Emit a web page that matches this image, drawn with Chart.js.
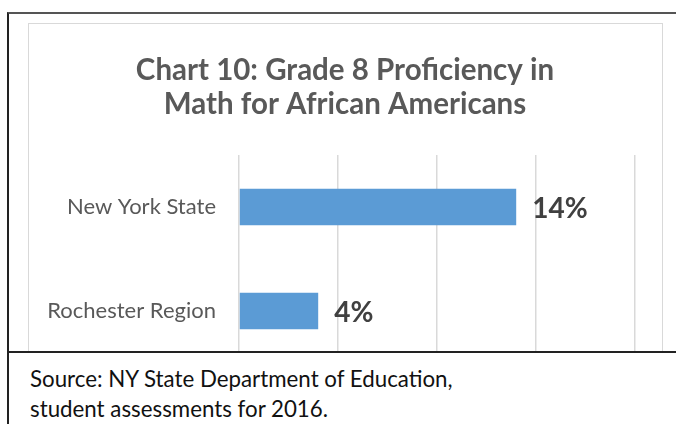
<!DOCTYPE html>
<html>
<head>
<meta charset="utf-8">
<script src="https://cdn.jsdelivr.net/npm/chart.js@4"></script>
<style>
  body { margin: 0; background: #fff; }
  #wrap { position: relative; width: 676px; height: 424px; overflow: hidden; background: #fff; }
  #outer { position: absolute; left: 7px; top: 12px; right: -5px; bottom: -5px; border-top: 2px solid #555; border-left: 2px solid #222; }
  #box { position: absolute; left: 28px; top: 23px; width: 633px; height: 340px; border: 1px solid #d9d9d9; }
  canvas { position: absolute; left: 0; top: 0; }
  #source { position: absolute; left: 7px; top: 351px; right: 0; bottom: 0; background: #fff;
    border-top: 2px solid #222; border-left: 2px solid #222;
    font-family: Lato, "Open Sans", sans-serif; font-size: 22.3px; line-height: 30px; color: #111; padding: 11px 0 0 21px; }
</style>
</head>
<body>
<div id="wrap">
  <div id="outer"></div>
  <div id="box"></div>
  <canvas id="chart" width="676" height="424"></canvas>
  <div id="source">Source: NY State Department of Education,<br>student assessments for 2016.</div>
</div>
<script>
// data
var categories = ['New York State', 'Rochester Region'];
var proficiency = [14, 4];
var valueLabels = ['14%', '4%'];
var gridStep = 5;
var gridMax = 20;

// draw the bold value next to each bar
var valueLabelPlugin = {
  id: 'valueLabels',
  afterDatasetsDraw: function (chart) {
    var ctx = chart.ctx;
    var meta = chart.getDatasetMeta(0);
    ctx.save();
    ctx.font = 'bold 28px Lato, "Open Sans", sans-serif';
    ctx.fillStyle = '#404040';
    ctx.textBaseline = 'middle';
    meta.data.forEach(function (bar, i) {
      ctx.fillText(valueLabels[i], bar.x + 16, bar.y + 2);
    });
    ctx.restore();
  }
};

var ctx = document.getElementById('chart').getContext('2d');
var chart = new Chart(ctx, {
  type: 'bar',
  data: {
    labels: categories,
    datasets: [{
      data: proficiency,
      backgroundColor: '#5b9bd5',
      categoryPercentage: 0.35,
      barPercentage: 1
    }]
  },
  options: {
    indexAxis: 'y',
    responsive: false,
    animation: false,
    layout: { padding: { left: 28, right: 14, top: 0, bottom: 61 } },
    plugins: {
      legend: { display: false },
      tooltip: { enabled: false },
      title: {
        display: true,
        text: ['Chart 10: Grade 8 Proficiency in', 'Math for African Americans'],
        color: '#595959',
        font: { family: 'Lato, "Open Sans", sans-serif', size: 29.5, weight: 'bold', lineHeight: 1.17 },
        padding: { top: 53, bottom: 33 }
      }
    },
    scales: {
      x: {
        min: 0,
        max: gridMax * 423 / 396, // last gridline (20%) sits inside the box edge
        border: { display: false },
        grid: { color: '#d9d9d9', lineWidth: 1.5, drawTicks: false },
        ticks: { display: false, stepSize: gridStep, includeBounds: false },
        afterFit: function (scale) { scale.height = 0; }
      },
      y: {
        border: { display: false },
        grid: { display: false, drawTicks: false },
        ticks: { color: '#595959', padding: 23, font: { family: 'Lato, "Open Sans", sans-serif', size: 22 } },
        afterFit: function (scale) { scale.width = 211; }
      }
    }
  },
  plugins: [valueLabelPlugin]
});
</script>
</body>
</html>
